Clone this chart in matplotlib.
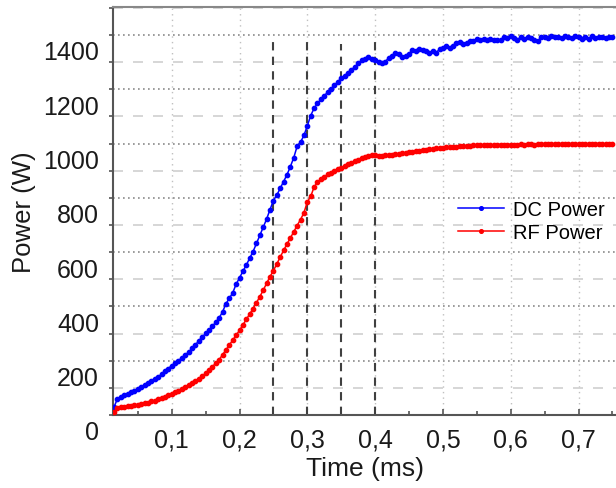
import numpy as np
import matplotlib
matplotlib.use('Agg')
import matplotlib.pyplot as plt
import matplotlib.transforms as mtransforms
from matplotlib.ticker import FixedLocator, MultipleLocator

plt.rcParams['font.family'] = ['Liberation Sans', 'DejaVu Sans']

# sample times (ms), one sample every 0.005 ms
time_ms = np.round(np.arange(0.015, 0.7501, 0.005), 3)

# DC power (W)
dc_power = [
    30, 60, 66, 72, 77, 83, 89, 96, 103, 109,
    117, 124, 132, 141, 150, 161, 171, 182, 191, 200,
    211, 221, 232, 245, 258, 274, 287, 301, 313, 327,
    342, 358, 380, 410, 430, 450, 482, 505, 530, 552,
    578, 602, 632, 663, 693, 722, 757, 790, 810, 835,
    860, 885, 915, 948, 990, 1005, 1030, 1065, 1103, 1130,
    1148, 1163, 1175, 1190, 1202, 1214, 1228, 1240, 1250, 1260,
    1272, 1282, 1295, 1306, 1312, 1318, 1310, 1306, 1300, 1296,
    1302, 1315, 1322, 1332, 1330, 1318, 1322, 1330, 1345, 1340,
    1350, 1345, 1340, 1334, 1342, 1334, 1348, 1352, 1358, 1352,
    1360, 1372, 1375, 1368, 1372, 1378, 1376, 1385, 1380, 1384,
    1380, 1384, 1380, 1383, 1382, 1392, 1388, 1395, 1390, 1382,
    1393, 1386, 1394, 1388, 1380, 1376, 1392, 1394, 1389, 1395,
    1392, 1394, 1390, 1396, 1394, 1389, 1395, 1392, 1386, 1392,
    1386, 1395, 1390, 1394, 1392, 1388, 1394, 1394,
]

# RF power (W)
rf_power = [
    10, 26, 29, 31, 33, 34, 36, 38, 40, 43,
    46, 50, 53, 58, 62, 67, 72, 78, 83, 89,
    95, 102, 109, 117, 125, 133, 143, 154, 166, 178,
    191, 204, 222, 240, 258, 276, 294, 312, 332, 352,
    372, 392, 414, 436, 460, 485, 510, 532, 556, 582,
    606, 630, 652, 675, 698, 720, 745, 785, 805, 840,
    858, 868, 878, 886, 893, 899, 905, 911, 917, 923,
    929, 935, 940, 946, 950, 955, 957, 956, 955, 955,
    957, 957, 959, 961, 963, 965, 966, 968, 970, 972,
    974, 976, 977, 979, 981, 982, 983, 984, 986, 987,
    988, 989, 990, 991, 992, 992, 993, 993, 993, 994,
    994, 994, 995, 994, 995, 995, 996, 995, 996, 996,
    997, 996, 997, 997, 996, 997, 998, 997, 997, 998,
    997, 998, 997, 998, 997, 998, 999, 998, 998, 999,
    998, 999, 1000, 1000, 998, 999, 998, 998,
]

# dashed reference times and how high they reach
ref_times = [0.25, 0.30, 0.35, 0.40]
ref_tops = [1385, 1390, 1365, 1395]

x_ticks = [0.1, 0.2, 0.3, 0.4, 0.5, 0.6, 0.7]
x_tick_labels = ['0,1', '0,2', '0,3', '0,4', '0,5', '0,6', '0,7']
y_ticks = [0, 200, 400, 600, 800, 1000, 1200, 1400]

fig = plt.figure(figsize=(6.16, 4.89), dpi=100)
ax = fig.add_axes([113 / 616, 73 / 489, 503 / 616, 408 / 489])

# grid
ax.set_axisbelow(True)
ax.xaxis.set_major_locator(FixedLocator(x_ticks))
ax.xaxis.set_minor_locator(MultipleLocator(0.05))
ax.yaxis.set_major_locator(FixedLocator(y_ticks))
ax.yaxis.set_minor_locator(MultipleLocator(100))
ax.grid(axis='y', which='major', color='#8a8a8a', linestyle=(0, (1, 2)), linewidth=1.2)
ax.grid(axis='y', which='minor', color='#d0d0d0', linestyle=(0, (6, 6)), linewidth=1.2)
ax.grid(axis='x', which='major', color='#c0c0c0', linestyle=(0, (1, 3)), linewidth=1.0)

for t, top in zip(ref_times, ref_tops):
    ax.plot([t, t], [0, top], color='#404040', linestyle=(0, (4, 3)), linewidth=1.5, zorder=2)

ax.plot(time_ms, dc_power, color='#0000ff', marker='o', markersize=3.1, linewidth=1.1,
        label='DC Power', zorder=3)
ax.plot(time_ms, rf_power, color='#ff0000', marker='o', markersize=3.1, linewidth=1.1,
        label='RF Power', zorder=3)

ax.set_xlim(0.0134, 0.7553)
ax.set_ylim(0, 1503)
ax.set_xticklabels(x_tick_labels)

ax.tick_params(axis='x', which='major', direction='in', length=4, width=1.2,
               color='#555555', labelsize=18, pad=9, labelcolor='#1a1a1a')
ax.tick_params(axis='x', which='minor', direction='in', length=3, width=1.2, color='#555555')
ax.tick_params(axis='y', which='both', direction='out', length=3, width=1.2,
               color='#555555', labelsize=18, pad=7, labelcolor='#1a1a1a')

# y labels sit a bit below their grid lines
offset = mtransforms.ScaledTranslation(0, -15 / 100, fig.dpi_scale_trans)
for lbl in ax.get_yticklabels():
    lbl.set_transform(lbl.get_transform() + offset)

for side in ['left', 'bottom']:
    ax.spines[side].set_color('#555555')
    ax.spines[side].set_linewidth(1.5)
ax.spines['top'].set_color('#888888')
ax.spines['top'].set_linewidth(1.5)
ax.spines['right'].set_visible(False)

ax.set_xlabel('Time (ms)', fontsize=19, color='#1a1a1a', labelpad=3)
ax.set_ylabel('Power (W)', fontsize=18.5, color='#1a1a1a', labelpad=5)

ax.legend(loc='upper left', bbox_to_anchor=(458 / 616, 1 - 201 / 489),
          bbox_transform=fig.transFigure, frameon=False, fontsize=14.5,
          handlelength=2.3, handletextpad=0.45, borderpad=0, borderaxespad=0,
          labelspacing=0.2, numpoints=1, markerscale=0.85)

fig.savefig('out.png', dpi=100)
